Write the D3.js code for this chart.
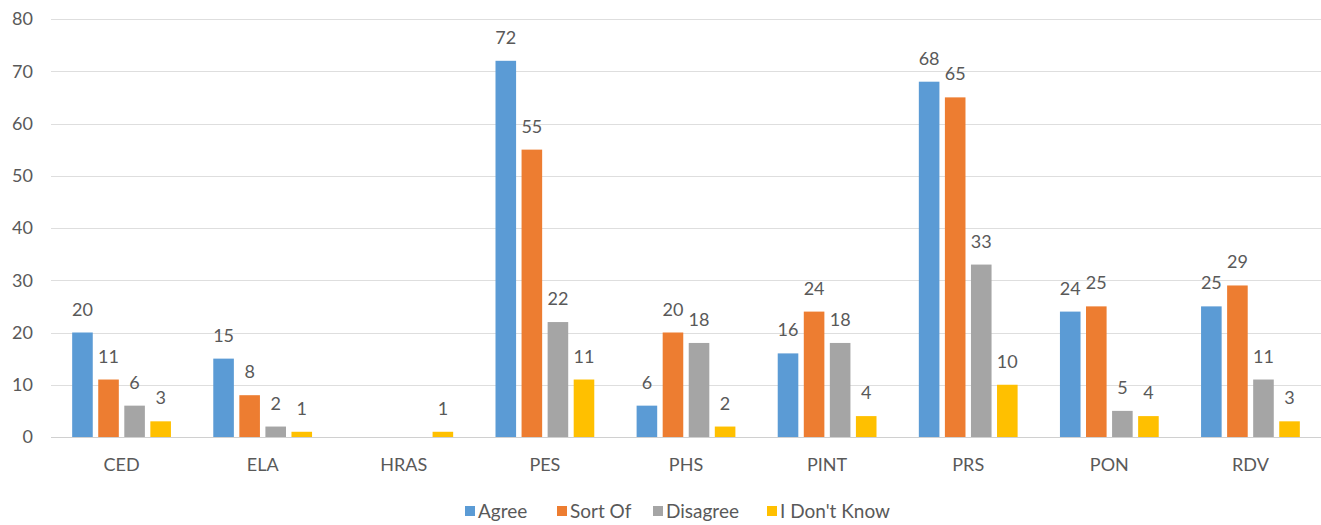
<!DOCTYPE html>
<html>
<head>
<meta charset="utf-8">
<script src="https://cdn.jsdelivr.net/npm/d3@7"></script>
<style>
  html, body { margin: 0; padding: 0; background: #fff; }
  svg { display: block; }
  text { font-family: Lato, "Open Sans", sans-serif; fill: #595959; }
</style>
</head>
<body>
<svg id="chart" width="1321" height="525"></svg>
<script>
const categories = ["CED", "ELA", "HRAS", "PES", "PHS", "PINT", "PRS", "PON", "RDV"];
const seriesNames = ["Agree", "Sort Of", "Disagree", "I Don't Know"];
const agree      = [20, 15, 0, 72, 6, 16, 68, 24, 25];
const sortOf     = [11, 8, 0, 55, 20, 24, 65, 25, 29];
const disagree   = [6, 2, 0, 22, 18, 18, 33, 5, 11];
const dontKnow   = [3, 1, 1, 11, 2, 4, 10, 4, 3];
const yTicks     = [0, 10, 20, 30, 40, 50, 60, 70, 80];
const colors     = ["#5B9BD5", "#ED7D31", "#A5A5A5", "#FFC000"];

const seriesValues = [agree, sortOf, disagree, dontKnow];

const svg = d3.select("#chart");
const margin = { left: 51, right: 0, top: 19, bottom: 88 };
const width = 1321, height = 525;
const fontSize = 18;

const x0 = d3.scaleBand()
  .domain(categories)
  .range([margin.left, width - margin.right])
  .paddingInner(0.3)
  .paddingOuter(0.15);

const x1 = d3.scaleBand()
  .domain(seriesNames)
  .range([0, x0.bandwidth()])
  .paddingInner(0.21);

const y = d3.scaleLinear()
  .domain([0, 80])
  .range([height - margin.bottom, margin.top]);

const color = d3.scaleOrdinal().domain(seriesNames).range(colors);

// horizontal gridlines
svg.append("g")
  .selectAll("line")
  .data(yTicks)
  .join("line")
  .attr("x1", margin.left)
  .attr("x2", width - margin.right)
  .attr("y1", d => Math.round(y(d)) + 0.5)
  .attr("y2", d => Math.round(y(d)) + 0.5)
  .attr("stroke", d => d === 0 ? "#d0d0d0" : "#dedede")
  .attr("stroke-width", 1);

// y axis labels
const yAxis = d3.axisLeft(y).tickValues(yTicks).tickSize(0).tickPadding(0);
svg.append("g")
  .attr("transform", `translate(33,0)`)
  .call(yAxis)
  .call(g => g.select(".domain").remove())
  .call(g => g.selectAll("text")
    .attr("font-size", fontSize)
    .attr("font-family", "Lato, 'Open Sans', sans-serif")
    .attr("fill", "#595959"));

// x axis labels
const xAxis = d3.axisBottom(x0).tickSize(0).tickPadding(0);
svg.append("g")
  .attr("transform", `translate(0,${y(0) + 21})`)
  .call(xAxis)
  .call(g => g.select(".domain").remove())
  .call(g => g.selectAll("text")
    .attr("font-size", fontSize)
    .attr("font-family", "Lato, 'Open Sans', sans-serif")
    .attr("fill", "#595959"));

// flatten to one record per bar
const records = [];
categories.forEach((cat, i) => {
  seriesNames.forEach((s, j) => {
    records.push({ cat, series: s, value: seriesValues[j][i] });
  });
});

svg.append("g")
  .selectAll("rect")
  .data(records)
  .join("rect")
  .attr("x", d => x0(d.cat) + x1(d.series))
  .attr("width", x1.bandwidth())
  .attr("y", d => y(d.value))
  .attr("height", d => y(0) - y(d.value))
  .attr("fill", d => color(d.series));

// value labels above each non-zero bar
svg.append("g")
  .selectAll("text")
  .data(records.filter(d => d.value > 0))
  .join("text")
  .attr("x", d => x0(d.cat) + x1(d.series) + x1.bandwidth() / 2)
  .attr("y", d => y(d.value) - 17)
  .attr("text-anchor", "middle")
  .attr("font-size", fontSize)
  .text(d => d.value);

// legend
const legendItems = [
  { name: "Agree", x: 465 },
  { name: "Sort Of", x: 557 },
  { name: "Disagree", x: 653 },
  { name: "I Don't Know", x: 767 }
];
const legend = svg.append("g").attr("transform", "translate(0,511)");
const li = legend.selectAll("g")
  .data(legendItems)
  .join("g")
  .attr("transform", d => `translate(${d.x},0)`);
li.append("rect")
  .attr("x", 0).attr("y", -5)
  .attr("width", 10).attr("height", 10)
  .attr("fill", d => color(d.name));
li.append("text")
  .attr("x", 13)
  .attr("y", 0)
  .attr("dy", "0.35em")
  .attr("font-size", 19)
  .text(d => d.name);
</script>
</body>
</html>
